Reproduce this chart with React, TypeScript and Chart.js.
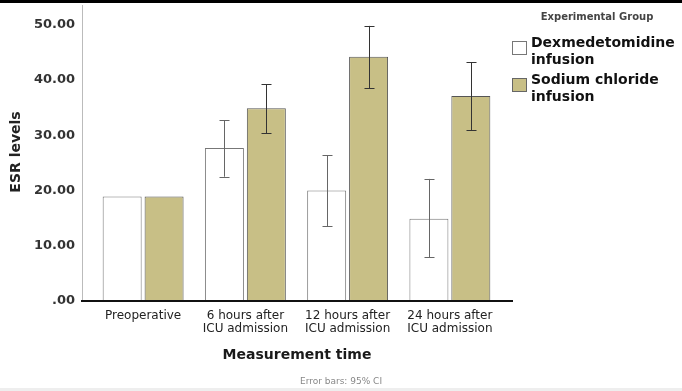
import React, { useEffect, useRef } from "react";
import { Chart, registerables } from "chart.js";

Chart.register(...registerables);

const categories: string[][] = [
  ["Preoperative"],
  ["6 hours after", "ICU admission"],
  ["12 hours after", "ICU admission"],
  ["24 hours after", "ICU admission"],
];
const seriesNames = ["Dexmedetomidine infusion", "Sodium chloride infusion"];
const dexMeans = [18.9, 27.7, 20.0, 14.9];
const dexLow: (number | null)[] = [null, 22.5, 13.5, 7.9];
const dexHigh: (number | null)[] = [null, 32.7, 26.4, 22.1];
const naclMeans = [18.9, 34.9, 44.2, 37.1];
const naclLow: (number | null)[] = [null, 30.4, 38.5, 30.9];
const naclHigh: (number | null)[] = [null, 39.2, 49.8, 43.2];
const yTicks = [0, 10, 20, 30, 40, 50];

const OLIVE = "#c8bf86";
const FONT = "'DejaVu Sans', Arial, sans-serif";

const decorPlugin = {
  id: "decor",
  afterDatasetsDraw(chart: any) {
    const ctx = chart.ctx;
    const y = chart.scales.y;
    const errs = [
      { lo: dexLow, hi: dexHigh, color: "#666" },
      { lo: naclLow, hi: naclHigh, color: "#333" },
    ];
    errs.forEach((e, di) => {
      const meta = chart.getDatasetMeta(di);
      meta.data.forEach((bar: any, i: number) => {
        const lo = e.lo[i];
        const hi = e.hi[i];
        if (lo == null || hi == null) return;
        const x = Math.round(bar.x) + 0.5;
        const yl = y.getPixelForValue(lo);
        const yh = y.getPixelForValue(hi);
        ctx.save();
        ctx.strokeStyle = e.color;
        ctx.lineWidth = 1;
        ctx.beginPath();
        ctx.moveTo(x, yh);
        ctx.lineTo(x, yl);
        ctx.moveTo(x - 5, Math.round(yh) + 0.5);
        ctx.lineTo(x + 5, Math.round(yh) + 0.5);
        ctx.moveTo(x - 5, Math.round(yl) + 0.5);
        ctx.lineTo(x + 5, Math.round(yl) + 0.5);
        ctx.stroke();
        ctx.restore();
      });
    });
  },
  afterDraw(chart: any) {
    const ctx = chart.ctx;
    const area = chart.chartArea;
    const W = chart.width;
    ctx.save();
    ctx.fillStyle = "#000";
    ctx.fillRect(0, 0, W, 3);
    ctx.fillStyle = "#eeeeee";
    ctx.fillRect(0, 388, W, 3);
    ctx.strokeStyle = "#bbbbbb";
    ctx.lineWidth = 1;
    ctx.beginPath();
    ctx.moveTo(area.left - 9.5, 5);
    ctx.lineTo(area.left - 9.5, area.bottom);
    ctx.stroke();
    ctx.strokeStyle = "#111";
    ctx.lineWidth = 2;
    ctx.beginPath();
    ctx.moveTo(area.left - 11, area.bottom);
    ctx.lineTo(area.right + 12, area.bottom);
    ctx.stroke();
    ctx.save();
    ctx.translate(16, 152);
    ctx.rotate(-Math.PI / 2);
    ctx.fillStyle = "#222";
    ctx.font = `bold 14px ${FONT}`;
    ctx.textAlign = "center";
    ctx.textBaseline = "middle";
    ctx.fillText("ESR levels", 0, 0);
    ctx.restore();
    ctx.fillStyle = "#1a1a1a";
    ctx.font = `bold 14px ${FONT}`;
    ctx.textAlign = "center";
    ctx.textBaseline = "middle";
    ctx.fillText("Measurement time", 297, 355);
    ctx.fillStyle = "#888";
    ctx.font = `9px ${FONT}`;
    ctx.fillText("Error bars: 95% CI", 341, 382);
    ctx.fillStyle = "#444";
    ctx.font = `bold 10px ${FONT}`;
    ctx.fillText("Experimental Group", 597, 17);
    const items = [
      { fill: "#ffffff", stroke: "#777", top: 41, lines: ["Dexmedetomidine", "infusion"], ty: 43 },
      { fill: OLIVE, stroke: "#666", top: 78, lines: ["Sodium chloride", "infusion"], ty: 80 },
    ];
    items.forEach((it) => {
      ctx.fillStyle = it.fill;
      ctx.fillRect(512, it.top, 15, 14);
      ctx.strokeStyle = it.stroke;
      ctx.lineWidth = 1;
      ctx.strokeRect(512.5, it.top + 0.5, 14, 13);
      ctx.fillStyle = "#111";
      ctx.font = `bold 14px ${FONT}`;
      ctx.textAlign = "left";
      ctx.textBaseline = "middle";
      it.lines.forEach((l, k) => ctx.fillText(l, 531, it.ty + k * 17));
    });
    ctx.restore();
  },
};

export default function App() {
  const ref = useRef<HTMLCanvasElement | null>(null);
  useEffect(() => {
    if (!ref.current) return;
    const chart = new Chart(ref.current, {
      type: "bar",
      data: {
        labels: categories,
        datasets: [
          {
            label: seriesNames[0],
            data: dexMeans,
            backgroundColor: "#ffffff",
            borderColor: "#777",
            borderWidth: 1,
            barPercentage: 0.93,
            categoryPercentage: 0.82,
          },
          {
            label: seriesNames[1],
            data: naclMeans,
            backgroundColor: OLIVE,
            borderColor: "#555",
            borderWidth: 1,
            barPercentage: 0.93,
            categoryPercentage: 0.82,
          },
        ],
      },
      options: {
        responsive: false,
        animation: false,
        layout: { padding: { top: 23, right: 181, left: 0, bottom: 0 } },
        plugins: { legend: { display: false }, tooltip: { enabled: false } },
        scales: {
          x: {
            grid: { display: false },
            border: { display: false },
            ticks: {
              color: "#222",
              font: { family: FONT, size: 12, lineHeight: 1.08 },
              padding: 0,
              maxRotation: 0,
              autoSkip: false,
            },
            afterFit: (s: any) => {
              s.height = 90;
            },
          },
          y: {
            min: 0,
            max: 50,
            grid: { display: false, drawTicks: false },
            border: { display: false },
            afterBuildTicks: (s: any) => {
              s.ticks = yTicks.map((v) => ({ value: v }));
            },
            ticks: {
              color: "#333",
              font: { family: FONT, size: 13, weight: "bold" },
              padding: 17,
              callback: (v: any) => (Number(v) === 0 ? ".00" : Number(v).toFixed(2)),
            },
            afterFit: (s: any) => {
              s.width = 92;
            },
          },
        },
      },
      plugins: [decorPlugin],
    });
    return () => chart.destroy();
  }, []);
  return (
    <div style={{ position: "fixed", left: 0, top: 0, width: 682, height: 391, background: "#fff" }}>
      <canvas ref={ref} width={682} height={391} style={{ width: 682, height: 391 }} />
    </div>
  );
}
